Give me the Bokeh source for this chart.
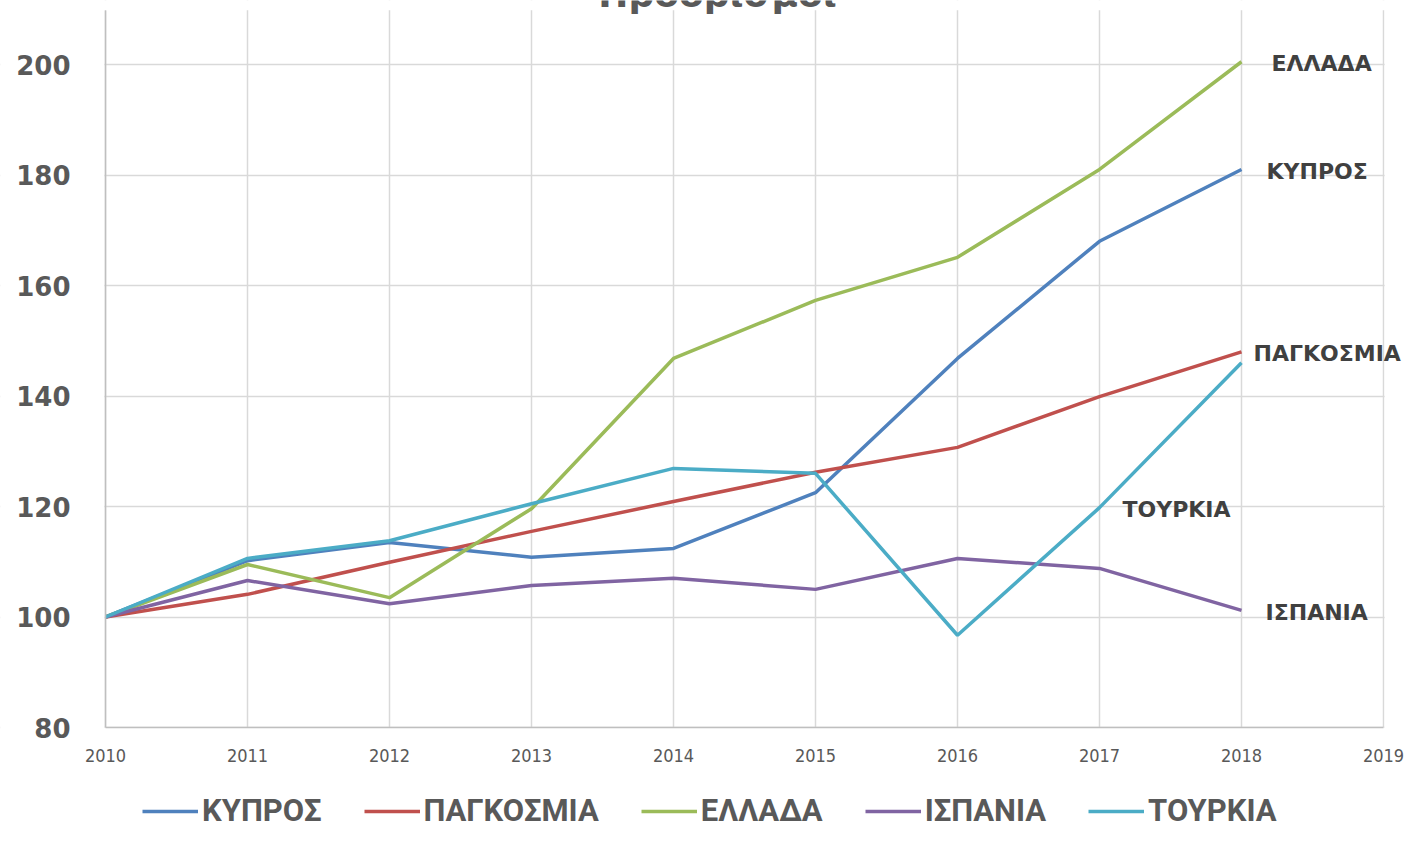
from bokeh.plotting import figure
from bokeh.models import Range1d, FixedTicker, Legend, LegendItem, Label, BoxAnnotation
from bokeh.embed import file_html
from bokeh.resources import INLINE

years = [2010, 2011, 2012, 2013, 2014, 2015, 2016, 2017, 2018]
series_names = ["ΚΥΠΡΟΣ", "ΠΑΓΚΟΣΜΙΑ", "ΕΛΛΑΔΑ", "ΙΣΠΑΝΙΑ", "ΤΟΥΡΚΙΑ"]
kypros = [100, 110.2, 113.5, 110.8, 112.4, 122.5, 146.8, 168.0, 181.0]
pagkosmia = [100, 104.1, 109.9, 115.5, 120.9, 126.2, 130.7, 139.9, 148.0]
ellada = [100, 109.5, 103.5, 119.6, 146.8, 157.3, 165.1, 181.0, 200.5]
ispania = [100, 106.6, 102.4, 105.7, 107.0, 105.0, 110.6, 108.8, 101.2]
tourkia = [100, 110.6, 113.8, 120.5, 126.9, 126.0, 96.7, 119.8, 146.0]
y_ticks = [80, 100, 120, 140, 160, 180, 200]
x_ticks = [2010, 2011, 2012, 2013, 2014, 2015, 2016, 2017, 2018, 2019]
title_text = "Προορισμοί"
# data labels: which year each series' label is attached to
label_years = [2018, 2018, 2018, 2018, 2017]

colors = ["#4F81BD", "#C0504D", "#9BBB59", "#8064A2", "#4BACC6"]
label_offsets = [25, 12, 30, 24, 23]

all_series = [kypros, pagkosmia, ellada, ispania, tourkia]

X0, X1 = 2010, 2019
Y0, Y1 = 80, 209.8
PX_PER_YEAR = 142.0
PX_PER_UNIT = 5.525

W, H = 1404, 829
AXIS_X_PX, AXIS_Y_PX = 105, 727
x_start = X0 - AXIS_X_PX / PX_PER_YEAR
x_end = X0 + (W - AXIS_X_PX) / PX_PER_YEAR
y_end = Y0 + AXIS_Y_PX / PX_PER_UNIT
y_start = Y0 - (H - AXIS_Y_PX) / PX_PER_UNIT

p = figure(width=W, height=H, output_backend="svg", toolbar_location=None,
           x_range=Range1d(x_start, x_end), y_range=Range1d(y_start, y_end),
           frame_width=W, frame_height=H,
           min_border_left=0, min_border_right=0, min_border_top=0,
           min_border_bottom=0)
p.outline_line_color = None
p.background_fill_color = "white"
p.border_fill_color = "white"

p.xgrid.ticker = FixedTicker(ticks=x_ticks)
p.ygrid.ticker = FixedTicker(ticks=y_ticks)
p.xgrid.grid_line_color = "#D9D9D9"
p.ygrid.grid_line_color = "#D9D9D9"
p.xgrid.grid_line_width = 1.5
p.ygrid.grid_line_width = 1.5

p.xaxis.ticker = FixedTicker(ticks=x_ticks)
p.yaxis.ticker = FixedTicker(ticks=y_ticks)
p.xaxis.bounds = (X0, X1)
p.yaxis.bounds = (Y0, Y1)
p.xaxis.fixed_location = Y0
p.yaxis.fixed_location = X0
for ax in (p.xaxis, p.yaxis):
    ax.axis_line_color = "#BFBFBF"
    ax.axis_line_width = 1.5
    ax.major_tick_line_color = None
    ax.minor_tick_line_color = None
    ax.major_tick_out = 0
    ax.major_tick_in = 0
    ax.major_label_text_color = "#595959"
p.xaxis.major_label_text_font = "'DejaVu Sans Condensed', Roboto"
p.xaxis.major_label_text_font_size = "18px"
p.xaxis.major_label_standoff = 21
p.yaxis.major_label_text_font = "DejaVu Sans"
p.yaxis.major_label_text_font_style = "bold"
p.yaxis.major_label_text_font_size = "26px"
p.yaxis.major_label_standoff = 35

# white masks: plot area is 2010-2019 x 80-209.8; hide grid lines outside it
p.add_layout(BoxAnnotation(left=X1 + 0.008, fill_color="white", fill_alpha=1,
                           line_alpha=0, level="underlay"))
p.add_layout(BoxAnnotation(right=X0 - 0.008, fill_color="white", fill_alpha=1,
                           line_alpha=0, level="underlay"))
p.add_layout(BoxAnnotation(bottom=Y1, fill_color="white", fill_alpha=1,
                           line_alpha=0, level="underlay"))
p.add_layout(BoxAnnotation(top=Y0, fill_color="white", fill_alpha=1,
                           line_alpha=0, level="underlay"))

renderers = []
for name, vals, c in zip(series_names, all_series, colors):
    r = p.line(years, vals, line_color=c, line_width=3.5)
    renderers.append(r)

# data labels
for name, vals, yr, off in zip(series_names, all_series, label_years, label_offsets):
    p.add_layout(Label(x=yr, y=vals[years.index(yr)], text=name, x_offset=off, y_offset=-2,
                       text_font="DejaVu Sans", text_font_style="bold", text_font_size="22px",
                       text_color="#404040", text_baseline="middle", text_align="left"))

# title (mostly cut off at top in reference)
p.add_layout(Label(x=2014.31, y=210.34, y_offset=13, text=title_text, text_font="DejaVu Sans",
                   text_font_style="bold", text_font_size="36px", text_color="#595959",
                   text_align="center", text_baseline="alphabetic"))

legend = Legend(items=[LegendItem(label=n, renderers=[r]) for n, r in zip(series_names, renderers)],
                location=(142, 0), orientation="horizontal",
                padding=0, margin=0, border_line_color=None, background_fill_alpha=0,
                spacing=42, glyph_width=56, glyph_height=30, label_height=30, label_standoff=4,
                label_text_font="Roboto", label_text_font_style="bold",
                label_text_font_size="31px", label_text_color="#595959")
p.add_layout(legend, "center")

open("out.html", "w").write(file_html(p, INLINE))
